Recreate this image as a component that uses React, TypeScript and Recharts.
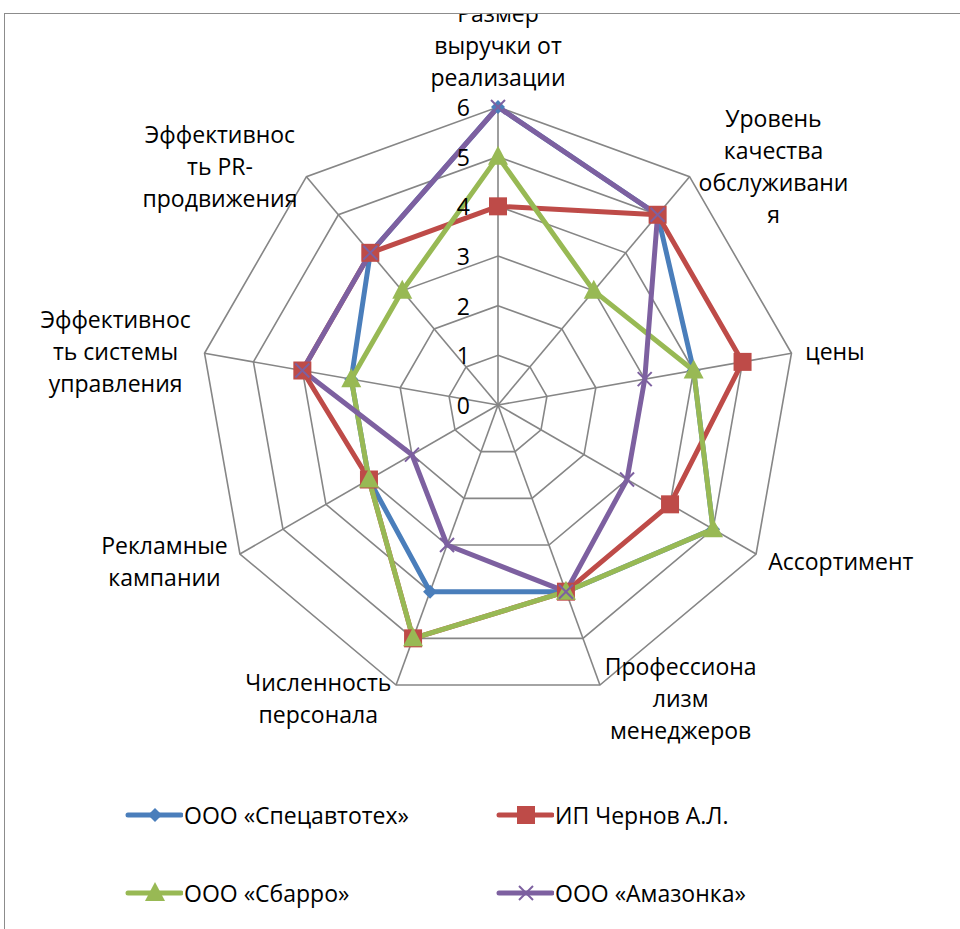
import { RadarChart, Radar, PolarGrid, PolarAngleAxis, PolarRadiusAxis, Legend } from "recharts";

// Оценка конкурентоспособности по 9 параметрам (шкала 0–6)
const categories = [
  "Размер выручки от реализации",
  "Уровень качества обслуживания",
  "цены",
  "Ассортимент",
  "Профессионализм менеджеров",
  "Численность персонала",
  "Рекламные кампании",
  "Эффективность системы управления",
  "Эффективность PR-продвижения",
];

// подписи осей так, как они перенесены в исходнике
const labelLines = [
  ["Размер", "выручки от", "реализации"],
  ["Уровень", "качества", "обслуживани", "я"],
  ["цены"],
  ["Ассортимент"],
  ["Профессиона", "лизм", "менеджеров"],
  ["Численность", "персонала"],
  ["Рекламные", "кампании"],
  ["Эффективнос", "ть системы", "управления"],
  ["Эффективнос", "ть PR-", "продвижения"],
];

const spetsavtotekh = [6, 5, 4, 5, 4, 4, 3, 3, 4];
const chernov = [4, 5, 5, 4, 4, 5, 3, 4, 4];
const sbarro = [5, 3, 4, 5, 4, 5, 3, 3, 3];
const amazonka = [6, 5, 3, 3, 4, 3, 2, 4, 4];

const radiusTicks = [0, 1, 2, 3, 4, 5, 6];

const series = [
  { key: "s1", name: "ООО «Спецавтотех»", color: "#4A7EBB", shape: "diamond", values: spetsavtotekh },
  { key: "s2", name: "ИП Чернов А.Л.", color: "#BE4B48", shape: "square", values: chernov },
  { key: "s3", name: "ООО «Сбарро»", color: "#98B954", shape: "triangle", values: sbarro },
  { key: "s4", name: "ООО «Амазонка»", color: "#7D60A0", shape: "cross", values: amazonka },
];

const data = categories.map((c, i) => {
  const row: any = { category: c };
  series.forEach((s) => (row[s.key] = s.values[i]));
  return row;
});

const FONT = '"Open Sans", "Noto Sans", sans-serif';
const FONT_SIZE = 23;
const LINE_H = 32;
const W = 955;
const H = 916;
const CX = 493;
const CY = 391;
const R = 298;

let ctx: CanvasRenderingContext2D | null = null;
function textWidth(s: string) {
  if (!ctx) {
    ctx = document.createElement("canvas").getContext("2d");
  }
  if (!ctx) return s.length * 12;
  ctx.font = `${FONT_SIZE}px ${FONT}`;
  return ctx.measureText(s).width;
}

function Marker({ shape, x, y, color }: { shape: string; x: number; y: number; color: string }) {
  if (shape === "diamond") {
    return <polygon points={`${x},${y - 7} ${x + 7},${y} ${x},${y + 7} ${x - 7},${y}`} fill={color} />;
  }
  if (shape === "square") {
    return <rect x={x - 9} y={y - 9} width={18} height={18} fill={color} />;
  }
  if (shape === "triangle") {
    return <polygon points={`${x},${y - 11} ${x + 10},${y + 8} ${x - 10},${y + 8}`} fill={color} />;
  }
  return (
    <g stroke={color} strokeWidth={2}>
      <line x1={x - 7} y1={y - 7} x2={x + 7} y2={y + 7} />
      <line x1={x - 7} y1={y + 7} x2={x + 7} y2={y - 7} />
    </g>
  );
}

function AngleTick(props: any) {
  const { payload, index } = props;
  const lines = labelLines[index] || [payload.value];
  const rad = (Math.PI / 180) * payload.coordinate;
  const sin = Math.cos(rad); // горизонтальная составляющая
  const cos = Math.sin(rad); // вертикальная (вверх)
  const px = CX + (R + 14) * sin;
  const py = CY - (R + 14) * cos;
  const w = Math.max(...lines.map(textWidth));
  const h = lines.length * LINE_H;
  let cx = px;
  let cy = py;
  if (Math.abs(sin) > 0.1) {
    cx = px + Math.sign(sin) * (w / 2);
  } else {
    cy = py - Math.sign(cos) * (h / 2);
  }
  const top = cy - h / 2 + LINE_H / 2;
  return (
    <text x={cx} y={top} textAnchor="middle" fill="#000" fontSize={FONT_SIZE} fontFamily={FONT}>
      {lines.map((l, i) => (
        <tspan key={i} x={cx} y={top + i * LINE_H} dominantBaseline="central">
          {l}
        </tspan>
      ))}
    </text>
  );
}

function RadiusTick(props: any) {
  const { x, y, payload } = props;
  return (
    <text x={x - 28} y={y} textAnchor="end" dominantBaseline="central" fill="#000" fontSize={FONT_SIZE} fontFamily={FONT}>
      {payload.value}
    </text>
  );
}

function LegendBox() {
  const pos = [
    { left: 120, top: 0 },
    { left: 491, top: 0 },
    { left: 120, top: 78 },
    { left: 491, top: 78 },
  ];
  return (
    <div style={{ position: "relative", width: W, height: 110 }}>
      {series.map((s, i) => (
        <div
          key={s.key}
          style={{
            position: "absolute",
            left: pos[i].left,
            top: pos[i].top,
            display: "flex",
            alignItems: "center",
            fontFamily: FONT,
            fontSize: FONT_SIZE,
            color: "#000",
            height: 32,
          }}
        >
          <svg width={58} height={24} style={{ marginRight: 1 }}>
            <line x1={3} y1={12} x2={56} y2={12} stroke={s.color} strokeWidth={5} strokeLinecap="round" />
            <Marker shape={s.shape} x={30} y={12} color={s.color} />
          </svg>
          <span>{s.name}</span>
        </div>
      ))}
    </div>
  );
}

export default function App() {
  return (
    <div style={{ position: "absolute", left: 0, top: 0, width: 960, height: 929, background: "#fff", overflow: "hidden" }}>
      <div
        style={{
          position: "absolute",
          left: 4,
          top: 13,
          width: W,
          height: H + 20,
          border: "1.5px solid #8c8c8c",
          overflow: "hidden",
          background: "#fff",
        }}
      >
        <RadarChart width={W} height={H} data={data} cx={CX} cy={CY} outerRadius={R} margin={{ top: 0, right: 0, bottom: 0, left: 0 }}>
          <PolarGrid gridType="polygon" stroke="#868686" strokeWidth={1.6} />
          <PolarAngleAxis dataKey="category" tick={<AngleTick />} tickLine={false} axisLine={false} />
          <PolarRadiusAxis
            angle={90}
            domain={[0, 6]}
            ticks={radiusTicks as any}
            tickCount={7}
            axisLine={false}
            tickLine={false}
            tick={<RadiusTick />}
          />
          {series.map((s) => (
            <Radar
              key={s.key}
              name={s.name}
              dataKey={s.key}
              stroke={s.color}
              strokeWidth={5}
              strokeLinejoin="round"
              fill="none"
              fillOpacity={0}
              isAnimationActive={false}
              dot={(p: any) => <Marker key={`${s.key}-${p.index}`} shape={s.shape} x={p.cx} y={p.cy} color={s.color} />}
            />
          ))}
          <Legend content={<LegendBox />} wrapperStyle={{ position: "absolute", left: 0, top: 785, width: W }} />
        </RadarChart>
      </div>
    </div>
  );
}
